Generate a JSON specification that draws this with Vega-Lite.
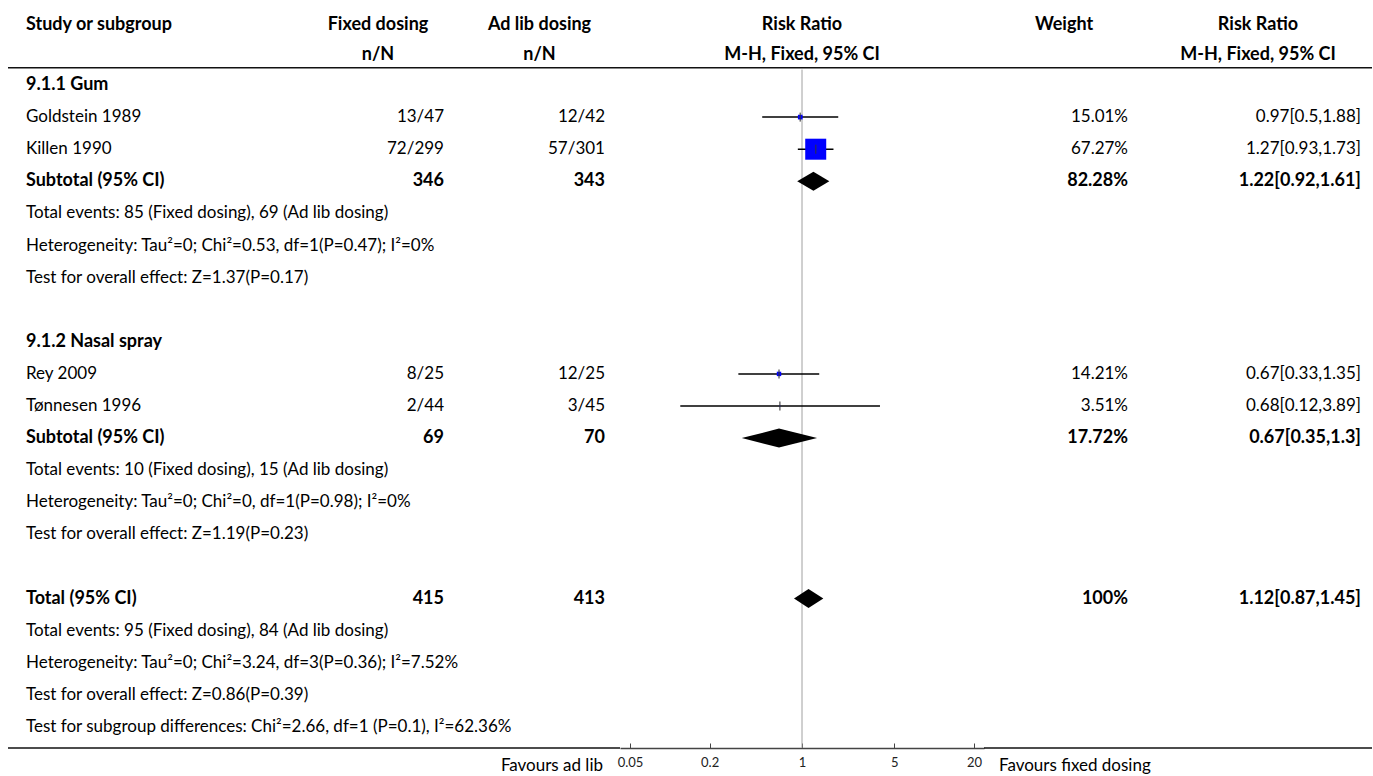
{
  "$schema": "https://vega.github.io/schema/vega-lite/v6.json",
  "padding": {"left": 7, "right": 2, "top": 0, "bottom": 0},
  "bounds": "flush",
  "spacing": 0,
  "config": {
    "view": {"stroke": null},
    "font": "Lato",
    "text": {"fontSize": 17, "baseline": "middle", "color": "black", "font": "Lato"}
  },
  "datasets": {
    "head": [
      {"col": "study", "line": 1, "label": "Study or subgroup"},
      {"col": "fixed", "line": 1, "label": "Fixed dosing"},
      {"col": "fixed", "line": 2, "label": "n/N"},
      {"col": "adlib", "line": 1, "label": "Ad lib dosing"},
      {"col": "adlib", "line": 2, "label": "n/N"},
      {"col": "forest", "line": 1, "label": "Risk Ratio"},
      {"col": "forest", "line": 2, "label": "M-H, Fixed, 95% CI"},
      {"col": "weight", "line": 1, "label": "Weight"},
      {"col": "ci", "line": 1, "label": "Risk Ratio"},
      {"col": "ci", "line": 2, "label": "M-H, Fixed, 95% CI"}
    ],
    "captions": [
      {"side": "adlib", "label": "Favours ad lib"},
      {"side": "fixed", "label": "Favours fixed dosing"}
    ],
    "table": [
      {"row": 0, "kind": "group", "study": "9.1.1 Gum"},
      {"row": 1, "kind": "study", "study": "Goldstein 1989", "fixed": "13/47", "adlib": "12/42", "weight": "15.01%", "ci": "0.97[0.5,1.88]", "rr": 0.97, "lo": 0.5, "hi": 1.88, "w": 15.01},
      {"row": 2, "kind": "study", "study": "Killen 1990", "fixed": "72/299", "adlib": "57/301", "weight": "67.27%", "ci": "1.27[0.93,1.73]", "rr": 1.27, "lo": 0.93, "hi": 1.73, "w": 67.27},
      {"row": 3, "kind": "subtotal", "study": "Subtotal (95% CI)", "fixed": "346", "adlib": "343", "weight": "82.28%", "ci": "1.22[0.92,1.61]", "rr": 1.22, "lo": 0.92, "hi": 1.61, "w": 82.28},
      {"row": 4, "kind": "note", "study": "Total events: 85 (Fixed dosing), 69 (Ad lib dosing)"},
      {"row": 5, "kind": "note", "study": "Heterogeneity: Tau²=0; Chi²=0.53, df=1(P=0.47); I²=0%"},
      {"row": 6, "kind": "note", "study": "Test for overall effect: Z=1.37(P=0.17)"},
      {"row": 8, "kind": "group", "study": "9.1.2 Nasal spray"},
      {"row": 9, "kind": "study", "study": "Rey 2009", "fixed": "8/25", "adlib": "12/25", "weight": "14.21%", "ci": "0.67[0.33,1.35]", "rr": 0.67, "lo": 0.33, "hi": 1.35, "w": 14.21},
      {"row": 10, "kind": "study", "study": "Tønnesen 1996", "fixed": "2/44", "adlib": "3/45", "weight": "3.51%", "ci": "0.68[0.12,3.89]", "rr": 0.68, "lo": 0.12, "hi": 3.89, "w": 3.51},
      {"row": 11, "kind": "subtotal", "study": "Subtotal (95% CI)", "fixed": "69", "adlib": "70", "weight": "17.72%", "ci": "0.67[0.35,1.3]", "rr": 0.67, "lo": 0.35, "hi": 1.3, "w": 17.72},
      {"row": 12, "kind": "note", "study": "Total events: 10 (Fixed dosing), 15 (Ad lib dosing)"},
      {"row": 13, "kind": "note", "study": "Heterogeneity: Tau²=0; Chi²=0, df=1(P=0.98); I²=0%"},
      {"row": 14, "kind": "note", "study": "Test for overall effect: Z=1.19(P=0.23)"},
      {"row": 16, "kind": "total", "study": "Total (95% CI)", "fixed": "415", "adlib": "413", "weight": "100%", "ci": "1.12[0.87,1.45]", "rr": 1.12, "lo": 0.87, "hi": 1.45, "w": 100},
      {"row": 17, "kind": "note", "study": "Total events: 95 (Fixed dosing), 84 (Ad lib dosing)"},
      {"row": 18, "kind": "note", "study": "Heterogeneity: Tau²=0; Chi²=3.24, df=3(P=0.36); I²=7.52%"},
      {"row": 19, "kind": "note", "study": "Test for overall effect: Z=0.86(P=0.39)"},
      {"row": 20, "kind": "note", "study": "Test for subgroup differences: Chi²=2.66, df=1 (P=0.1), I²=62.36%"}
    ]
  },
  "hconcat": [
    {
      "width": 289, "height": 748,
      "layer": [
        {
          "data": {"name": "head"},
          "transform": [{"filter": "datum.col == 'study'"}, {"calculate": "datum.line == 1 ? -1.869 : -0.935", "as": "row"}],
          "mark": {"type": "text", "align": "left", "dx": 18, "fontWeight": "bold", "fontSize": 18},
          "encoding": {
            "x": {"datum": "study", "type": "nominal", "bandPosition": 0, "scale": {"type": "band", "paddingInner": 0, "paddingOuter": 0}, "axis": null},
            "y": {"field": "row", "type": "quantitative", "scale": {"domain": [-2.648, 20.654], "reverse": true, "nice": false, "zero": false}, "axis": null},
            "text": {"field": "label"}
          }
        },
        {
          "data": {"name": "table"},
          "mark": {"type": "text", "align": "left", "dx": 18,
                   "fontWeight": {"expr": "datum.kind == 'study' || datum.kind == 'note' ? 'normal' : 'bold'"},
                   "fontSize": {"expr": "datum.kind == 'study' || datum.kind == 'note' ? 17 : 18"}},
          "encoding": {
            "x": {"datum": "study", "type": "nominal", "bandPosition": 0},
            "y": {"field": "row", "type": "quantitative"},
            "text": {"field": "study"}
          }
        },
        {
          "data": {"values": [{"edge": "top", "row": -0.539}, {"edge": "bottom", "row": 20.654}]},
          "mark": {"type": "rule", "color": "#111", "strokeWidth": 1.5},
          "encoding": {"y": {"field": "row", "type": "quantitative"}}
        }
      ]
    },
    {
      "width": 162, "height": 748,
      "layer": [
        {
          "data": {"name": "head"},
          "transform": [{"filter": "datum.col == 'fixed'"}, {"calculate": "datum.line == 1 ? -1.869 : -0.935", "as": "row"}],
          "mark": {"type": "text", "align": "center", "fontWeight": "bold", "fontSize": 18},
          "encoding": {
            "x": {"datum": "fixed", "type": "nominal", "bandPosition": 0.5, "scale": {"type": "band", "paddingInner": 0, "paddingOuter": 0}, "axis": null},
            "y": {"field": "row", "type": "quantitative", "scale": {"domain": [-2.648, 20.654], "reverse": true, "nice": false, "zero": false}, "axis": null},
            "text": {"field": "label"}
          }
        },
        {
          "data": {"name": "table"},
          "transform": [{"filter": "isValid(datum.fixed)"}],
          "mark": {"type": "text", "align": "right", "dx": -15,
                   "fontWeight": {"expr": "datum.kind == 'study' ? 'normal' : 'bold'"},
                   "fontSize": {"expr": "datum.kind == 'study' ? 17 : 18"}},
          "encoding": {
            "x": {"datum": "fixed", "type": "nominal", "bandPosition": 1},
            "y": {"field": "row", "type": "quantitative"},
            "text": {"field": "fixed"}
          }
        },
        {
          "data": {"values": [{"edge": "top", "row": -0.539}, {"edge": "bottom", "row": 20.654}]},
          "mark": {"type": "rule", "color": "#111", "strokeWidth": 1.5},
          "encoding": {"y": {"field": "row", "type": "quantitative"}}
        }
      ]
    },
    {
      "width": 161, "height": 748,
      "layer": [
        {
          "data": {"name": "head"},
          "transform": [{"filter": "datum.col == 'adlib'"}, {"calculate": "datum.line == 1 ? -1.869 : -0.935", "as": "row"}],
          "mark": {"type": "text", "align": "center", "fontWeight": "bold", "fontSize": 18},
          "encoding": {
            "x": {"datum": "adlib", "type": "nominal", "bandPosition": 0.5, "scale": {"type": "band", "paddingInner": 0, "paddingOuter": 0}, "axis": null},
            "y": {"field": "row", "type": "quantitative", "scale": {"domain": [-2.648, 20.654], "reverse": true, "nice": false, "zero": false}, "axis": null},
            "text": {"field": "label"}
          }
        },
        {
          "data": {"name": "table"},
          "transform": [{"filter": "isValid(datum.adlib)"}],
          "mark": {"type": "text", "align": "right", "dx": -15,
                   "fontWeight": {"expr": "datum.kind == 'study' ? 'normal' : 'bold'"},
                   "fontSize": {"expr": "datum.kind == 'study' ? 17 : 18"}},
          "encoding": {
            "x": {"datum": "adlib", "type": "nominal", "bandPosition": 1},
            "y": {"field": "row", "type": "quantitative"},
            "text": {"field": "adlib"}
          }
        },
        {
          "data": {"name": "captions"},
          "transform": [{"filter": "datum.side == 'adlib'"}],
          "mark": {"type": "text", "align": "right", "dx": -17, "dy": 18},
          "encoding": {
            "x": {"datum": "adlib", "type": "nominal", "bandPosition": 1},
            "y": {"datum": 20.654, "type": "quantitative"},
            "text": {"field": "label"}
          }
        },
        {
          "data": {"values": [{"edge": "top", "row": -0.539}, {"edge": "bottom", "row": 20.654}]},
          "mark": {"type": "rule", "color": "#111", "strokeWidth": 1.5},
          "encoding": {"y": {"field": "row", "type": "quantitative"}}
        }
      ]
    },
    {
      "width": 364, "height": 748,
      "layer": [
        {
          "data": {"values": [{"rr": 1, "top": -0.48, "bottom": 20.654}]},
          "mark": {"type": "rule", "color": "#a0a0a0", "strokeWidth": 1},
          "encoding": {
            "x": {
              "field": "rr", "type": "quantitative",
              "scale": {"type": "log", "domain": [0.04198, 23.82], "nice": false},
              "axis": {"title": null, "values": [0.05, 0.2, 1, 5, 20], "format": "~g", "grid": false, "tickSize": -5, "tickColor": "#444", "domainColor": "#444", "domainWidth": 1.5, "labelFontSize": 13, "labelColor": "#222", "labelFont": "Lato", "labelPadding": 13, "labelFlush": false}
            },
            "y": {"field": "top", "type": "quantitative", "scale": {"domain": [-2.648, 20.654], "reverse": true, "nice": false, "zero": false}, "axis": null},
            "y2": {"field": "bottom"}
          }
        },
        {
          "data": {"name": "table"},
          "transform": [{"filter": "datum.kind == 'study'"}],
          "mark": {"type": "rule", "color": "black", "strokeWidth": 1.5},
          "encoding": {
            "x": {"field": "lo", "type": "quantitative"},
            "x2": {"field": "hi"},
            "y": {"field": "row", "type": "quantitative"}
          }
        },
        {
          "data": {"name": "table"},
          "transform": [{"filter": "datum.kind == 'study'"}],
          "mark": {"type": "point", "shape": "square", "filled": true, "color": "#0000ff", "opacity": 1},
          "encoding": {
            "x": {"field": "rr", "type": "quantitative"},
            "y": {"field": "row", "type": "quantitative"},
            "size": {"field": "w", "type": "quantitative", "scale": {"type": "pow", "exponent": 2, "domain": [0, 67.27], "range": [0, 441], "zero": true}, "legend": null}
          }
        },
        {
          "data": {"name": "table"},
          "transform": [{"filter": "datum.kind == 'study'"}],
          "mark": {"type": "tick", "orient": "vertical", "size": 9, "thickness": 1.5, "color": "#333"},
          "encoding": {
            "x": {"field": "rr", "type": "quantitative"},
            "y": {"field": "row", "type": "quantitative"}
          }
        },
        {
          "data": {"name": "table"},
          "transform": [
            {"filter": "datum.kind == 'subtotal' || datum.kind == 'total'"},
            {"fold": ["lo", "rr", "hi"], "as": ["vertex", "value"]}
          ],
          "mark": {"type": "area", "orient": "vertical", "color": "black", "opacity": 1,
                   "yOffset": {"expr": "datum.vertex == 'rr' ? -9.5 : 0"},
                   "y2Offset": {"expr": "datum.vertex == 'rr' ? 9.5 : 0"}},
          "encoding": {
            "x": {"field": "value", "type": "quantitative"},
            "y": {"field": "row", "type": "quantitative"},
            "y2": {"field": "row"},
            "detail": {"field": "row", "type": "nominal"}
          }
        },
        {
          "data": {"name": "head"},
          "transform": [{"filter": "datum.col == 'forest'"}, {"calculate": "datum.line == 1 ? -1.869 : -0.935", "as": "row"}],
          "mark": {"type": "text", "align": "center", "fontWeight": "bold", "fontSize": 18},
          "encoding": {
            "y": {"field": "row", "type": "quantitative"},
            "text": {"field": "label"}
          }
        },
        {
          "data": {"values": [{"edge": "top", "row": -0.539}]},
          "mark": {"type": "rule", "color": "#111", "strokeWidth": 1.5},
          "encoding": {"y": {"field": "row", "type": "quantitative"}}
        }
      ]
    },
    {
      "width": 160, "height": 748,
      "layer": [
        {
          "data": {"name": "head"},
          "transform": [{"filter": "datum.col == 'weight'"}, {"calculate": "datum.line == 1 ? -1.869 : -0.935", "as": "row"}],
          "mark": {"type": "text", "align": "center", "fontWeight": "bold", "fontSize": 18},
          "encoding": {
            "x": {"datum": "weight", "type": "nominal", "bandPosition": 0.5, "scale": {"type": "band", "paddingInner": 0, "paddingOuter": 0}, "axis": null},
            "y": {"field": "row", "type": "quantitative", "scale": {"domain": [-2.648, 20.654], "reverse": true, "nice": false, "zero": false}, "axis": null},
            "text": {"field": "label"}
          }
        },
        {
          "data": {"name": "table"},
          "transform": [{"filter": "isValid(datum.weight)"}],
          "mark": {"type": "text", "align": "right", "dx": -16,
                   "fontWeight": {"expr": "datum.kind == 'study' ? 'normal' : 'bold'"},
                   "fontSize": {"expr": "datum.kind == 'study' ? 17 : 18"}},
          "encoding": {
            "x": {"datum": "weight", "type": "nominal", "bandPosition": 1},
            "y": {"field": "row", "type": "quantitative"},
            "text": {"field": "weight"}
          }
        },
        {
          "data": {"name": "captions"},
          "transform": [{"filter": "datum.side == 'fixed'"}],
          "mark": {"type": "text", "align": "left", "dx": 15, "dy": 18},
          "encoding": {
            "x": {"datum": "weight", "type": "nominal", "bandPosition": 0},
            "y": {"datum": 20.654, "type": "quantitative"},
            "text": {"field": "label"}
          }
        },
        {
          "data": {"values": [{"edge": "top", "row": -0.539}, {"edge": "bottom", "row": 20.654}]},
          "mark": {"type": "rule", "color": "#111", "strokeWidth": 1.5},
          "encoding": {"y": {"field": "row", "type": "quantitative"}}
        }
      ]
    },
    {
      "width": 228, "height": 748,
      "layer": [
        {
          "data": {"name": "head"},
          "transform": [{"filter": "datum.col == 'ci'"}, {"calculate": "datum.line == 1 ? -1.869 : -0.935", "as": "row"}],
          "mark": {"type": "text", "align": "center", "fontWeight": "bold", "fontSize": 18},
          "encoding": {
            "x": {"datum": "ci", "type": "nominal", "bandPosition": 0.5, "scale": {"type": "band", "paddingInner": 0, "paddingOuter": 0}, "axis": null},
            "y": {"field": "row", "type": "quantitative", "scale": {"domain": [-2.648, 20.654], "reverse": true, "nice": false, "zero": false}, "axis": null},
            "text": {"field": "label"}
          }
        },
        {
          "data": {"name": "table"},
          "transform": [{"filter": "isValid(datum.ci)"}],
          "mark": {"type": "text", "align": "right", "dx": -11,
                   "fontWeight": {"expr": "datum.kind == 'study' ? 'normal' : 'bold'"},
                   "fontSize": {"expr": "datum.kind == 'study' ? 17 : 18"}},
          "encoding": {
            "x": {"datum": "ci", "type": "nominal", "bandPosition": 1},
            "y": {"field": "row", "type": "quantitative"},
            "text": {"field": "ci"}
          }
        },
        {
          "data": {"values": [{"edge": "top", "row": -0.539}, {"edge": "bottom", "row": 20.654}]},
          "mark": {"type": "rule", "color": "#111", "strokeWidth": 1.5},
          "encoding": {"y": {"field": "row", "type": "quantitative"}}
        }
      ]
    }
  ]
}
